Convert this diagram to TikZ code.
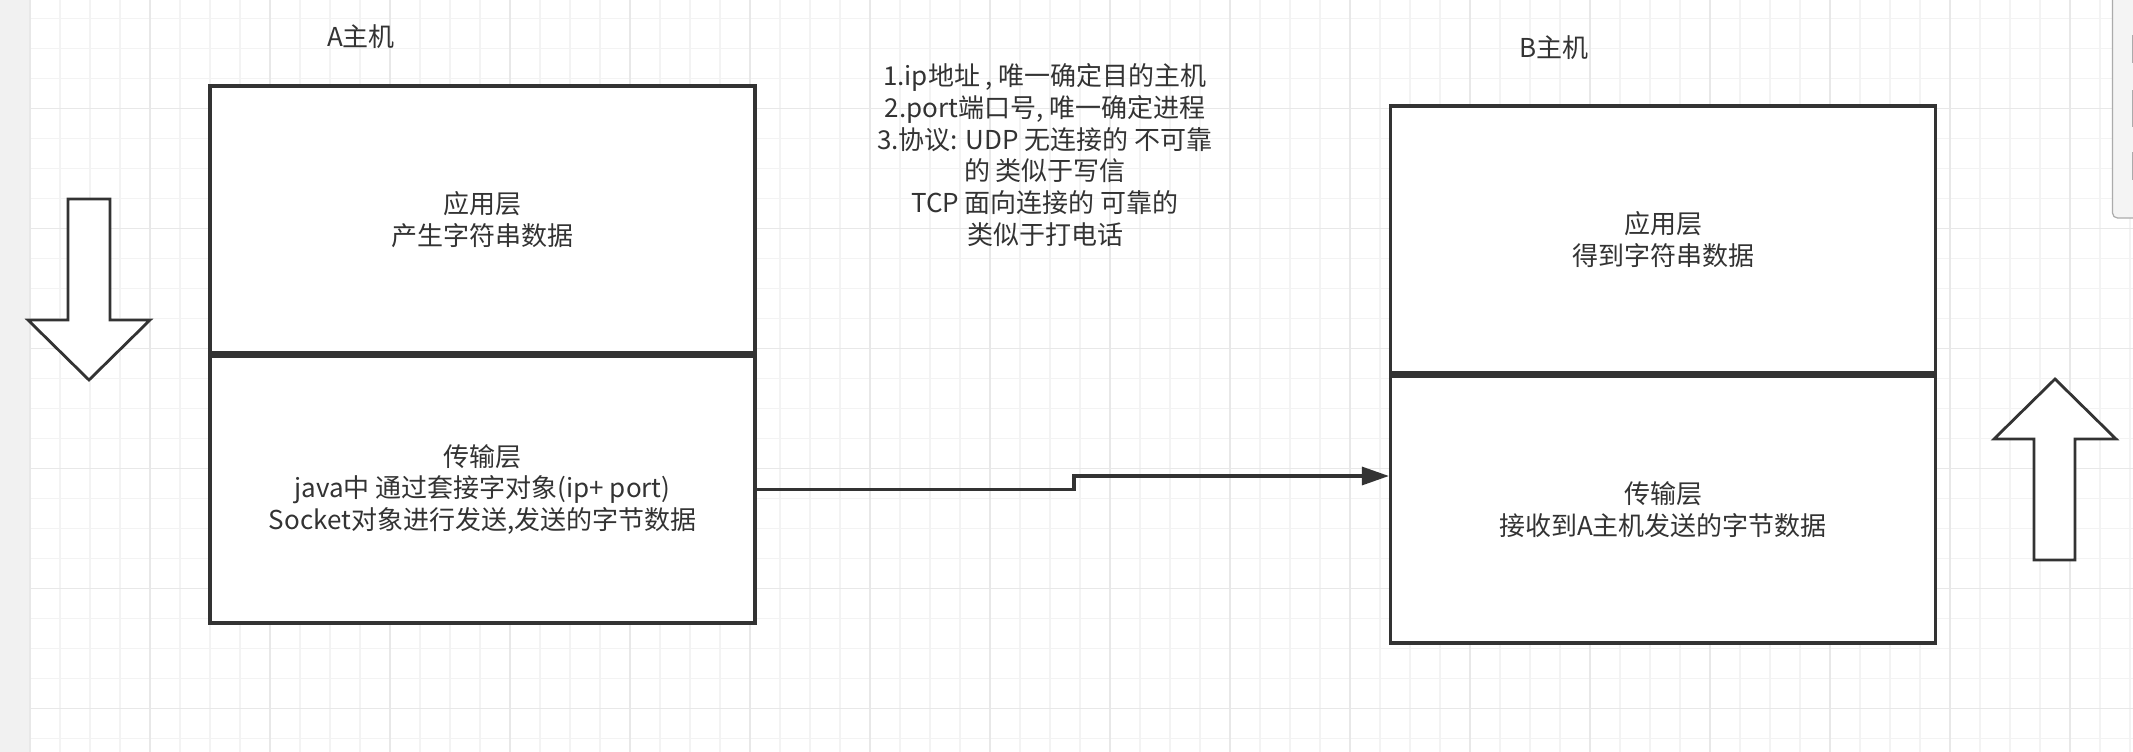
\documentclass[tikz,border=0pt]{standalone}
\usepackage{fontspec}
\newfontfamily\cjk{Noto Sans CJK SC}
\usetikzlibrary{arrows.meta}
\definecolor{ink}{HTML}{333333}
\definecolor{gridminor}{HTML}{F3F3F3}
\definecolor{gridmajor}{HTML}{E8E8E8}
\definecolor{strip}{HTML}{F1F1F1}
\definecolor{panelfill}{HTML}{F4F4F4}
\definecolor{paneledge}{HTML}{ABABAB}
\begin{document}
\begin{tikzpicture}[x=1pt,y=-1pt,
  lbl/.style={font=\cjk\fontsize{26}{31.7}\selectfont, text=ink, align=center, inner sep=0pt},
  layerbox/.style={draw=ink, line width=3.2pt, fill=white, minimum width=545pt, minimum height=267pt, inner sep=0pt, lbl},
  conn/.style={draw=ink, line width=3.2pt, -{Triangle[length=27pt,width=18pt]}},
  bigarrow/.style={draw=ink, line width=2.8pt, fill=white, line join=miter},
  minorline/.style={draw=gridminor, line width=1.4pt},
  majorline/.style={draw=gridmajor, line width=1.6pt},
]
\useasboundingbox (0,0) rectangle (2133,752);
% background
\fill[white] (0,0) rectangle (2133,752);
\fill[strip] (0,0) rectangle (30,752);
\foreach \i in {0,...,24} {
  \draw[minorline] (30,{18.3+30*\i}) -- (2133,{18.3+30*\i});
}
\foreach \i in {2,...,71} {
  \draw[minorline] ({30*\i},0) -- ({30*\i},752);
}
\foreach \i in {0,...,5} {
  \draw[majorline] (30,{108.3+120*\i}) -- (2133,{108.3+120*\i});
}
\foreach \i in {0,...,17} {
  \draw[majorline] ({30+120*\i},0) -- ({30+120*\i},752);
}
% side panel edge
\filldraw[fill=panelfill, draw=paneledge, line width=1.2pt, rounded corners=5pt] (2112.5,-10) rectangle (2150,218);
\draw[paneledge, line width=1pt] (2132.5,35) -- (2132.5,63);
\draw[paneledge, line width=1pt] (2132.5,90) -- (2132.5,127);
\draw[paneledge, line width=1pt] (2132.5,152) -- (2132.5,180);

% titles
\node[lbl] (Atitle) at (361,36.5) {A主机};
\node[lbl] (Btitle) at (1554,47.5) {B主机};

% host A
\node[layerbox] (Aapp) at (482.5,219.5) {应用层\\产生字符串数据};
\node[layerbox] (Atrans) at (482.5,489.5) {传输层\\java中 通过套接字对象(ip+ port)\\Socket对象进行发送,发送的字节数据};

% host B
\node[layerbox] (Bapp) at (1663,239.5) {应用层\\得到字符串数据};
\node[layerbox] (Btrans) at (1663,509.5) {传输层\\接收到A主机发送的字节数据};

% notes
\node[lbl] (notes) at (1045,155) {1.ip地址 , 唯一确定目的主机\\2.port端口号, 唯一确定进程\\3.协议: UDP 无连接的 不可靠\\的 类似于写信\\TCP 面向连接的 可靠的\\类似于打电话};

% connector
\coordinate (bend) at (1074,476);
\draw[conn] (Atrans.east) -| (bend) -- (Btrans.west |- bend);

% big hollow arrows
\draw[bigarrow] (68,199) -- (110,199) -- (110,320) -- (150,320) -- (89,380) -- (28,320) -- (68,320) -- cycle;
\draw[bigarrow] (2034,560) -- (2075,560) -- (2075,439) -- (2116,439) -- (2055,379) -- (1994,439) -- (2034,439) -- cycle;
\end{tikzpicture}
\end{document}
